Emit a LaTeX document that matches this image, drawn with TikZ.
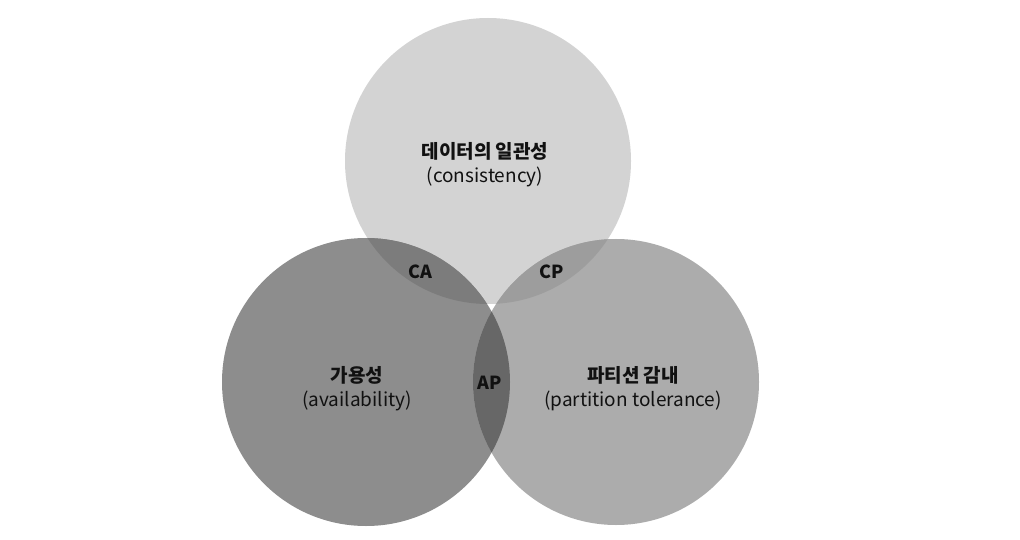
\documentclass[tikz,border=0pt]{standalone}
\usepackage{fontspec}
\setmainfont{Noto Sans CJK KR}
\definecolor{topc}{HTML}{D3D3D3}
\definecolor{leftc}{HTML}{8D8D8D}
\definecolor{rightc}{HTML}{ACACAC}
\definecolor{cac}{HTML}{7C7C7C}
\definecolor{cpc}{HTML}{9D9D9D}
\definecolor{apc}{HTML}{676767}
\definecolor{txtc}{HTML}{111111}
\begin{document}
\begin{tikzpicture}[x=1pt,y=-1pt,
  lbl/.style={align=center,inner sep=0pt,text=txtc,font=\fontsize{19}{24}\selectfont},
  tag/.style={inner sep=0pt,text=txtc,font=\fontsize{18}{20}\selectfont\bfseries}]
\useasboundingbox (0,0) rectangle (1020,540);
\fill[white] (0,0) rectangle (1020,540);
\def\topcirc{(488,161) circle[radius=143pt]}
\def\leftcirc{(366,382) circle[radius=144pt]}
\def\rightcirc{(616,382) circle[radius=143pt]}
\fill[topc] \topcirc;
\fill[leftc] \leftcirc;
\fill[rightc] \rightcirc;
\begin{scope}
  \clip \topcirc;
  \fill[cac] \leftcirc;
  \fill[cpc] \rightcirc;
\end{scope}
\begin{scope}
  \clip \leftcirc;
  \fill[apc] \rightcirc;
\end{scope}
\node[lbl] (cons) at (485,165) {{\bfseries 데이터의 일관성}\\(consistency)};
\node[lbl] (avail) at (357,389) {{\bfseries 가용성}\\(availability)};
\node[lbl] (part) at (633,389) {{\bfseries 파티션 감내}\\(partition tolerance)};
\node[tag] (ca) at (420,272) {CA};
\node[tag] (cp) at (552,272) {CP};
\node[tag] (ap) at (490,383) {AP};
\end{tikzpicture}
\end{document}
